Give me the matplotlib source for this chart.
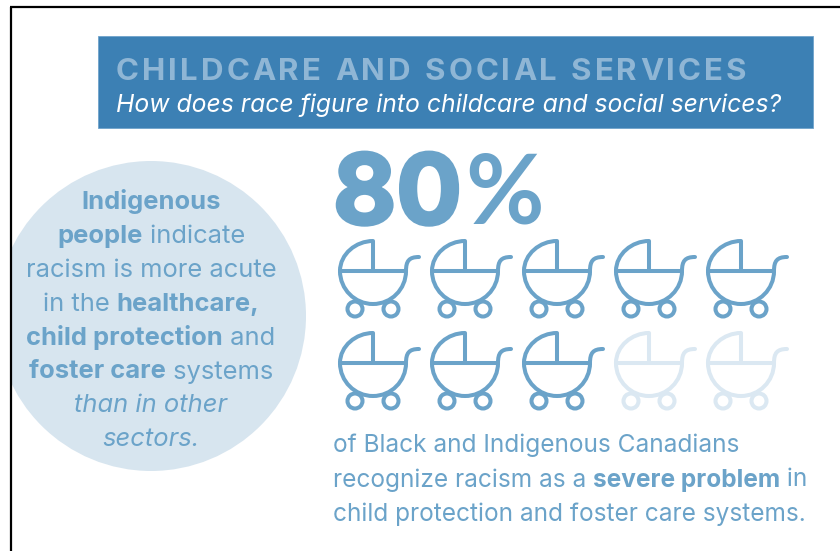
import matplotlib
matplotlib.use("Agg")
import matplotlib.pyplot as plt
import matplotlib.patheffects as pe
from matplotlib.patches import Circle, PathPatch, Rectangle
from matplotlib.path import Path

FONT = "Inter"
BLUE = "#6ba3c9"
PALE = "#dbe8f2"
HEADER = "#3c80b4"

title = "CHILDCARE AND SOCIAL SERVICES"
subtitle = "How does race figure into childcare and social services?"
percent = 80
n_prams = 10
n_cols = 5

# (text, bold, italic) runs for each line
circle_lines = [
    [("Indigenous", True, False)],
    [("people", True, False), (" indicate", False, False)],
    [("racism is more acute", False, False)],
    [("in the ", False, False), ("healthcare,", True, False)],
    [("child protection", True, False), (" and", False, False)],
    [("foster care", True, False), (" systems", False, False)],
    [("than in other", False, True)],
    [("sectors.", False, True)],
]
body_lines = [
    [("of Black and Indigenous Canadians", False, False)],
    [("recognize racism as a ", False, False), ("severe problem", True, False), (" in", False, False)],
    [("child protection and foster care systems.", False, False)],
]

fig = plt.figure(figsize=(8.4, 5.51), dpi=100)
ax = fig.add_axes([0, 0, 1, 1])
ax.set_xlim(0, 840)
ax.set_ylim(551, 0)
ax.axis("off")
renderer = fig.canvas.get_renderer()


def draw_runs(runs, x, y, size, center=False):
    # lay out mixed weight text run by run, measuring each piece
    pieces = []
    total = 0
    for s, bold, italic in runs:
        t = ax.text(0, y, s, fontsize=size, family=FONT, color=BLUE, va="baseline", ha="left",
                    fontweight="bold" if bold else "normal",
                    fontstyle="italic" if italic else "normal")
        w = t.get_window_extent(renderer).width
        pieces.append((t, w))
        total += w
    cur = x - total / 2 if center else x
    for t, w in pieces:
        t.set_x(cur)
        cur += w


def draw_tracked(s, x, y, size, tracking, color):
    # letter spaced caps, one glyph at a time
    for ch in s:
        t = ax.text(x, y, ch, fontsize=size, family=FONT, fontweight="bold", color=color, va="baseline", ha="left")
        if ch == " ":
            x += size * 0.36 + tracking
        else:
            x += t.get_window_extent(renderer).width + tracking


def draw_pram(cx, cy, color):
    # cx, cy is the middle of the carriage line
    r = 33
    k = 0.5523 * r
    verts = [
        (cx - r, cy), (cx + r, cy),
        (cx - r, cy), (cx - r, cy + k), (cx - k, cy + r), (cx, cy + r),
        (cx + k, cy + r), (cx + r, cy + k), (cx + r, cy),
        (cx - r, cy), (cx - r, cy - 17), (cx - 17, cy - 30), (cx, cy - 30), (cx, cy),
        (cx + r, cy), (cx + r, cy - 10), (cx + 36, cy - 14), (cx + 46, cy - 14),
    ]
    codes = [
        Path.MOVETO, Path.LINETO,
        Path.MOVETO, Path.CURVE4, Path.CURVE4, Path.CURVE4,
        Path.CURVE4, Path.CURVE4, Path.CURVE4,
        Path.MOVETO, Path.CURVE4, Path.CURVE4, Path.CURVE4, Path.LINETO,
        Path.MOVETO, Path.CURVE4, Path.CURVE4, Path.CURVE4,
    ]
    ax.add_patch(PathPatch(Path(verts, codes), fc="none", ec=color, lw=2.9, capstyle="round", joinstyle="round"))
    for dx in (-18, 18):
        ax.add_patch(Circle((cx + dx, cy + 38), 7.5, fc="white", ec=color, lw=2.9))


# header band
ax.add_patch(Rectangle((98, 36), 715, 92, fc=HEADER, ec="#6fa3cb", lw=0.6))
draw_tracked(title, 116, 80, 22.5, 3.0, "#8fb6d5")
ax.text(116, 112, subtitle, fontsize=17.8, family=FONT, fontstyle="italic", color="white", va="baseline", ha="left")

# circle with text
ax.add_patch(Circle((151, 316), 155, fc="#d7e5ef", ec="none"))
ax.add_patch(Rectangle((0, 0), 11, 551, fc="white", ec="none", zorder=1.5))
for i, runs in enumerate(circle_lines):
    draw_runs(runs, 151, 209 + i * 33.9, 18.4, center=True)

# big number, digits and percent sign set separately to fit the width
thick = [pe.withStroke(linewidth=2.5, foreground=BLUE)]
ax.text(333, 224, f"{percent}", fontsize=70, family=FONT, fontweight="bold", color=BLUE, va="baseline", ha="left",
        path_effects=thick)
ax.text(465, 224, "%", fontsize=69, family="Lato", fontweight="bold", color=BLUE, va="baseline", ha="left")

for i in range(n_prams):
    row, col = divmod(i, n_cols)
    filled = i < percent / 100 * n_prams
    draw_pram(373 + col * 92, 271 + row * 92, BLUE if filled else PALE)

for i, runs in enumerate(body_lines):
    draw_runs(runs, 333, 452 + i * 34.5, 17.6)

# outer frame
ax.plot([11, 11], [551, 7], color="black", lw=1.6, solid_capstyle="butt", zorder=3)
ax.plot([10, 840], [7, 7], color="black", lw=1.6, solid_capstyle="butt", zorder=3)

fig.savefig("out.png", dpi=100)
